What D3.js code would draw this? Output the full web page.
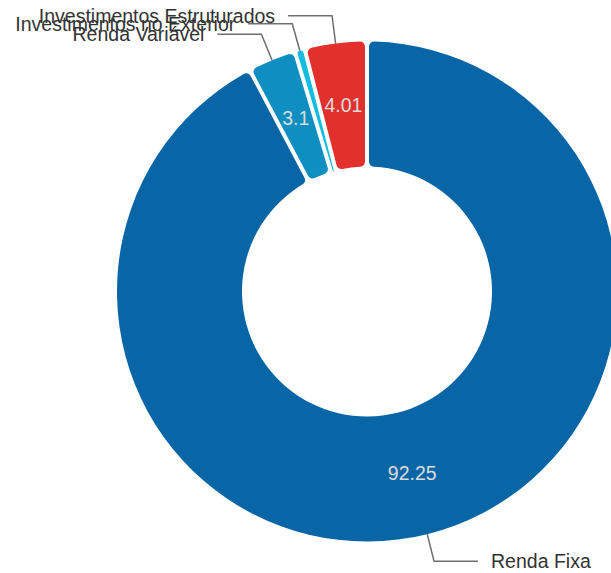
<!DOCTYPE html>
<html><head><meta charset="utf-8">
<script src="https://cdn.jsdelivr.net/npm/d3@7/dist/d3.min.js"></script>
<style>html,body{margin:0;padding:0;background:#fff;overflow:hidden}</style>
</head><body>
<svg id="c" width="611" height="573"></svg>
<script>
const categories = ["Renda Fixa", "Renda Variável", "Investimentos no Exterior", "Investimentos Estruturados"];
const values = [92.25, 3.1, 0.64, 4.01];
const colors = ["#0866a6", "#0f8fc1", "#14bce0", "#e2312d"];
const showValue = [true, true, false, true];

const W = 611, H = 573;
const cx = 367, cy = 291.5, R = 250, r0 = 125;
const svg = d3.select("#c");
const g = svg.append("g").attr("transform", `translate(${cx},${cy})`);

const data = categories.map((c, i) => ({name: c, value: values[i], color: colors[i], show: showValue[i]}));
const pie = d3.pie().value(d => d.value).sort(null);
const arcs = pie(data);
const arc = d3.arc().innerRadius(r0).outerRadius(R).cornerRadius(5).padAngle(4 / R).padRadius(R);

g.selectAll("path.slice").data(arcs).enter().append("path")
  .attr("class", "slice").attr("d", arc).attr("fill", d => d.data.color);

const font = "'Liberation Sans', Arial, sans-serif";
g.selectAll("text.val").data(arcs.filter(d => d.data.show)).enter().append("text")
  .attr("class", "val")
  .attr("transform", d => `translate(${arc.centroid(d)})`)
  .attr("text-anchor", "middle").attr("dy", "0.35em")
  .attr("font-family", font).attr("font-size", 19.5)
  .attr("fill", "#dcdcdc")
  .text(d => d.data.value);

const rElbow = 278, seg = 44, gap = 13;
arcs.forEach(d => {
  const a = (d.startAngle + d.endAngle) / 2;
  const sx = Math.sin(a) * R, sy = -Math.cos(a) * R;
  const ex = Math.sin(a) * rElbow, ey = -Math.cos(a) * rElbow;
  const left = Math.sin(a) < 0;
  const hx = ex + (left ? -seg : seg);
  g.append("path")
    .attr("d", `M${sx},${sy}L${ex},${ey}L${hx},${ey}`)
    .attr("fill", "none").attr("stroke", "#6e6e6e").attr("stroke-width", 1.5);
  g.append("text")
    .attr("x", hx + (left ? -gap : gap)).attr("y", ey).attr("dy", "0.35em")
    .attr("text-anchor", left ? "end" : "start")
    .attr("font-family", font).attr("font-size", 19.5).attr("fill", "#333333")
    .text(d.data.name);
});
</script>
</body></html>
